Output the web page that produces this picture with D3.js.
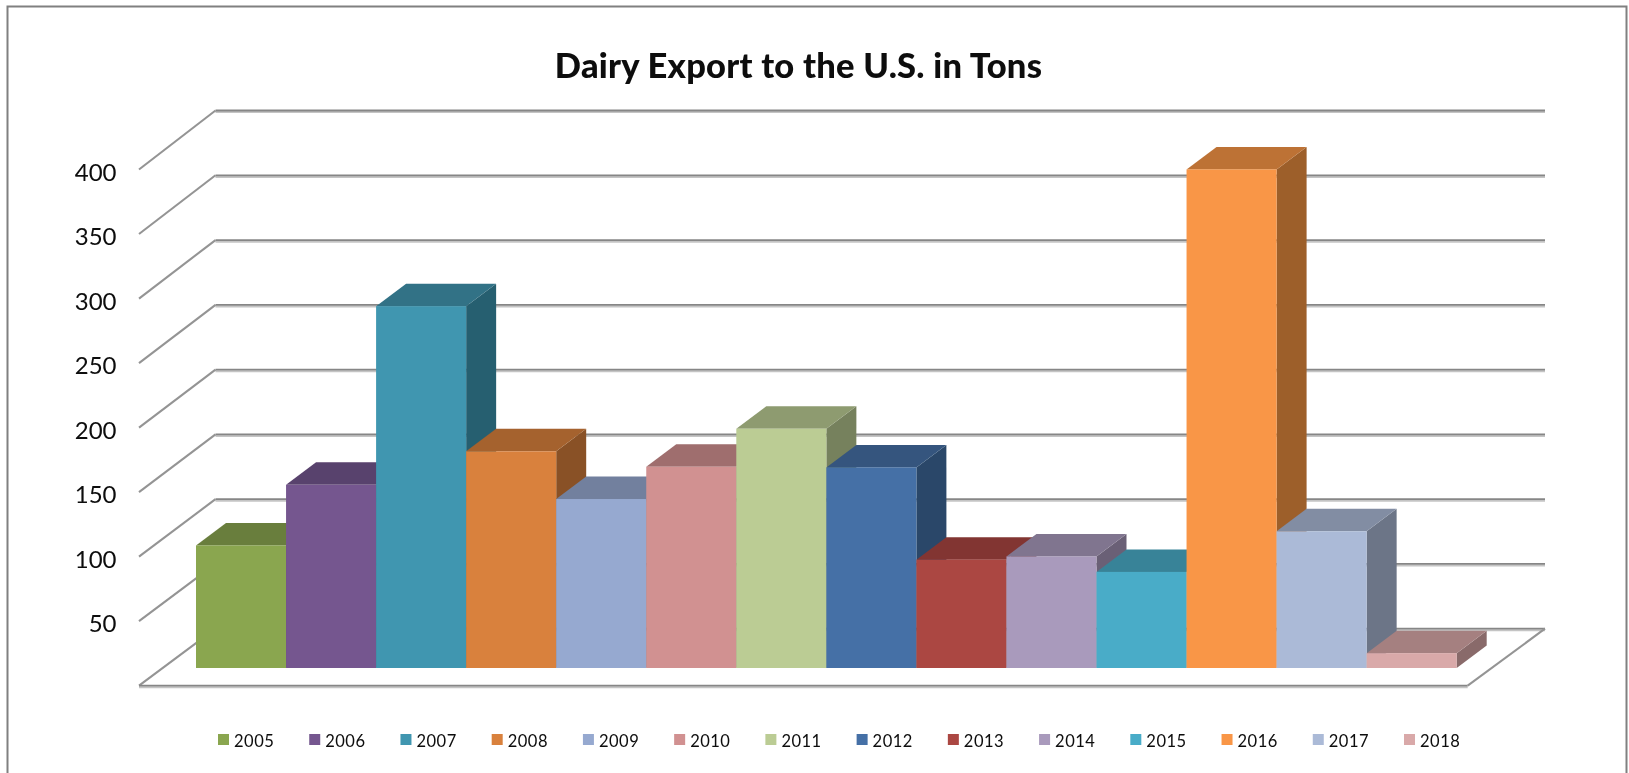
<!DOCTYPE html>
<html>
<head>
<meta charset="utf-8">
<script src="https://cdn.jsdelivr.net/npm/d3@7/dist/d3.min.js"></script>
<style>
html,body{margin:0;padding:0;background:#fff;overflow:hidden}
svg{display:block}
text{font-family:Lato,"Open Sans",sans-serif;fill:#0a0a0a}
</style>
</head>
<body>
<svg id="c" width="1629" height="773"></svg>
<script>
const titleText = "Dairy Export to the U.S. in Tons";
const years = ["2005","2006","2007","2008","2009","2010","2011","2012","2013","2014","2015","2016","2017","2018"];
const tons = [95,142,280.5,168,131,156,185.5,155.5,84,86.5,74.5,386.5,106,11.5];
const barColors = ["#8aa650","#75578f","#4096b0","#d9813c","#96a9d0","#d19191","#bbcc94","#4470a6","#ab4642","#a99abc","#4aacc8","#f99646","#abbad7","#d9a9a9"];
const gridValues = [0,50,100,150,200,250,300,350,400];
const tickValues = [50,100,150,200,250,300,350,400];

const svg = d3.select("#c");
const defs = svg.append("defs");
defs.append("filter").attr("id","soft").attr("x","-2%").attr("y","-2%").attr("width","104%").attr("height","104%")
  .append("feGaussianBlur").attr("stdDeviation",0.6);
const root = svg.append("g").attr("filter","url(#soft)");

const W=1629,H=773;
// chart frame (open at the bottom)
root.append("path").attr("d",`M7.5,${H+5}V6.5H1626.5V${H+5}`).attr("fill","none").attr("stroke","#808080").attr("stroke-width",2);

const yBack  = d3.scaleLinear().domain([0,400]).range([628.7,110.5]);
const yFront = d3.scaleLinear().domain([0,400]).range([685.7,169.5]);
const yBar   = d3.scaleLinear().domain([0,400]).range([668,152]);
const x = d3.scaleBand().domain(years).range([196,1456.7]).padding(0);
const xFrontL=139, xBackL=215.5, xBackR=1545, xFrontR=1467.7;
const depthX=30, depthY=22.5;

// grid walls
const grid = root.append("g").attr("fill","none").attr("stroke-linecap","butt");
grid.selectAll("line.sh").data(gridValues).join("line").attr("class","sh")
  .attr("x1",xBackL).attr("x2",xBackR).attr("y1",d=>yBack(d)+1.6).attr("y2",d=>yBack(d)+1.6)
  .attr("stroke","#c4c4c4").attr("stroke-width",2);
grid.selectAll("line.bk").data(gridValues).join("line").attr("class","bk")
  .attr("x1",xBackL).attr("x2",xBackR).attr("y1",d=>yBack(d)).attr("y2",d=>yBack(d))
  .attr("stroke","#868686").attr("stroke-width",1.8);
grid.selectAll("line.dg").data(gridValues).join("line").attr("class","dg")
  .attr("x1",xFrontL).attr("x2",xBackL).attr("y1",d=>yFront(d)).attr("y2",d=>yBack(d))
  .attr("stroke","#949494").attr("stroke-width",2.1);
// floor front and right edges
grid.append("line").attr("x1",xFrontL).attr("x2",xFrontR).attr("y1",yFront(0)+1.6).attr("y2",yFront(0)+1.6).attr("stroke","#c4c4c4").attr("stroke-width",2);
grid.append("line").attr("x1",xFrontL).attr("x2",xFrontR).attr("y1",yFront(0)).attr("y2",yFront(0)).attr("stroke","#868686").attr("stroke-width",1.8);
grid.append("line").attr("x1",xFrontR).attr("x2",xBackR).attr("y1",yFront(0)).attr("y2",yBack(0)).attr("stroke","#949494").attr("stroke-width",2.1);

// y axis labels
const axis = d3.axisLeft(yFront).tickValues(tickValues).tickSize(0).tickPadding(22.5).tickFormat(d3.format("d"));
const ax = root.append("g").attr("transform",`translate(${xFrontL},0)`).call(axis);
ax.select(".domain").remove();
ax.selectAll("text").attr("font-size",24).attr("dy","0.45em").style("font-family","Lato,sans-serif").style("fill","#0a0a0a");

// bars
const shade=(c,f)=>{const r=d3.rgb(c);return d3.rgb(r.r*f,r.g*f,r.b*f).formatHex();};
const rows = years.map((y,i)=>({year:y,value:tons[i],color:barColors[i]}));
const bars = root.append("g").selectAll("g").data(rows).join("g");
bars.append("path").attr("fill",d=>shade(d.color,0.63)).attr("d",d=>{
  const r=x(d.year)+x.bandwidth(),t=yBar(d.value),b=yBar(0);
  return `M${r},${t}L${r+depthX},${t-depthY}V${b-depthY}L${r},${b}Z`;});
bars.append("path").attr("fill",d=>shade(d.color,0.76)).attr("d",d=>{
  const l=x(d.year),r=l+x.bandwidth(),t=yBar(d.value);
  return `M${l},${t}L${l+depthX},${t-depthY}H${r+depthX}L${r},${t}Z`;});
bars.append("rect").attr("x",d=>x(d.year)).attr("y",d=>yBar(d.value))
  .attr("width",x.bandwidth()).attr("height",d=>yBar(0)-yBar(d.value)).attr("fill",d=>d.color);

// title
root.append("text").attr("x",798.5).attr("y",78).attr("text-anchor","middle")
  .attr("font-size",34.5).attr("font-weight",900).attr("letter-spacing",0.25).text(titleText);

// legend
const lx = d3.scalePoint().domain(years).range([218,1404]);
const leg = root.append("g").selectAll("g").data(rows).join("g")
  .attr("transform",d=>`translate(${lx(d.year)},734)`);
leg.append("rect").attr("width",11).attr("height",11).attr("fill",d=>d.color);
leg.append("text").attr("x",16).attr("y",13).attr("font-size",16.5).attr("letter-spacing",0.5).text(d=>d.year);
</script>
</body>
</html>
